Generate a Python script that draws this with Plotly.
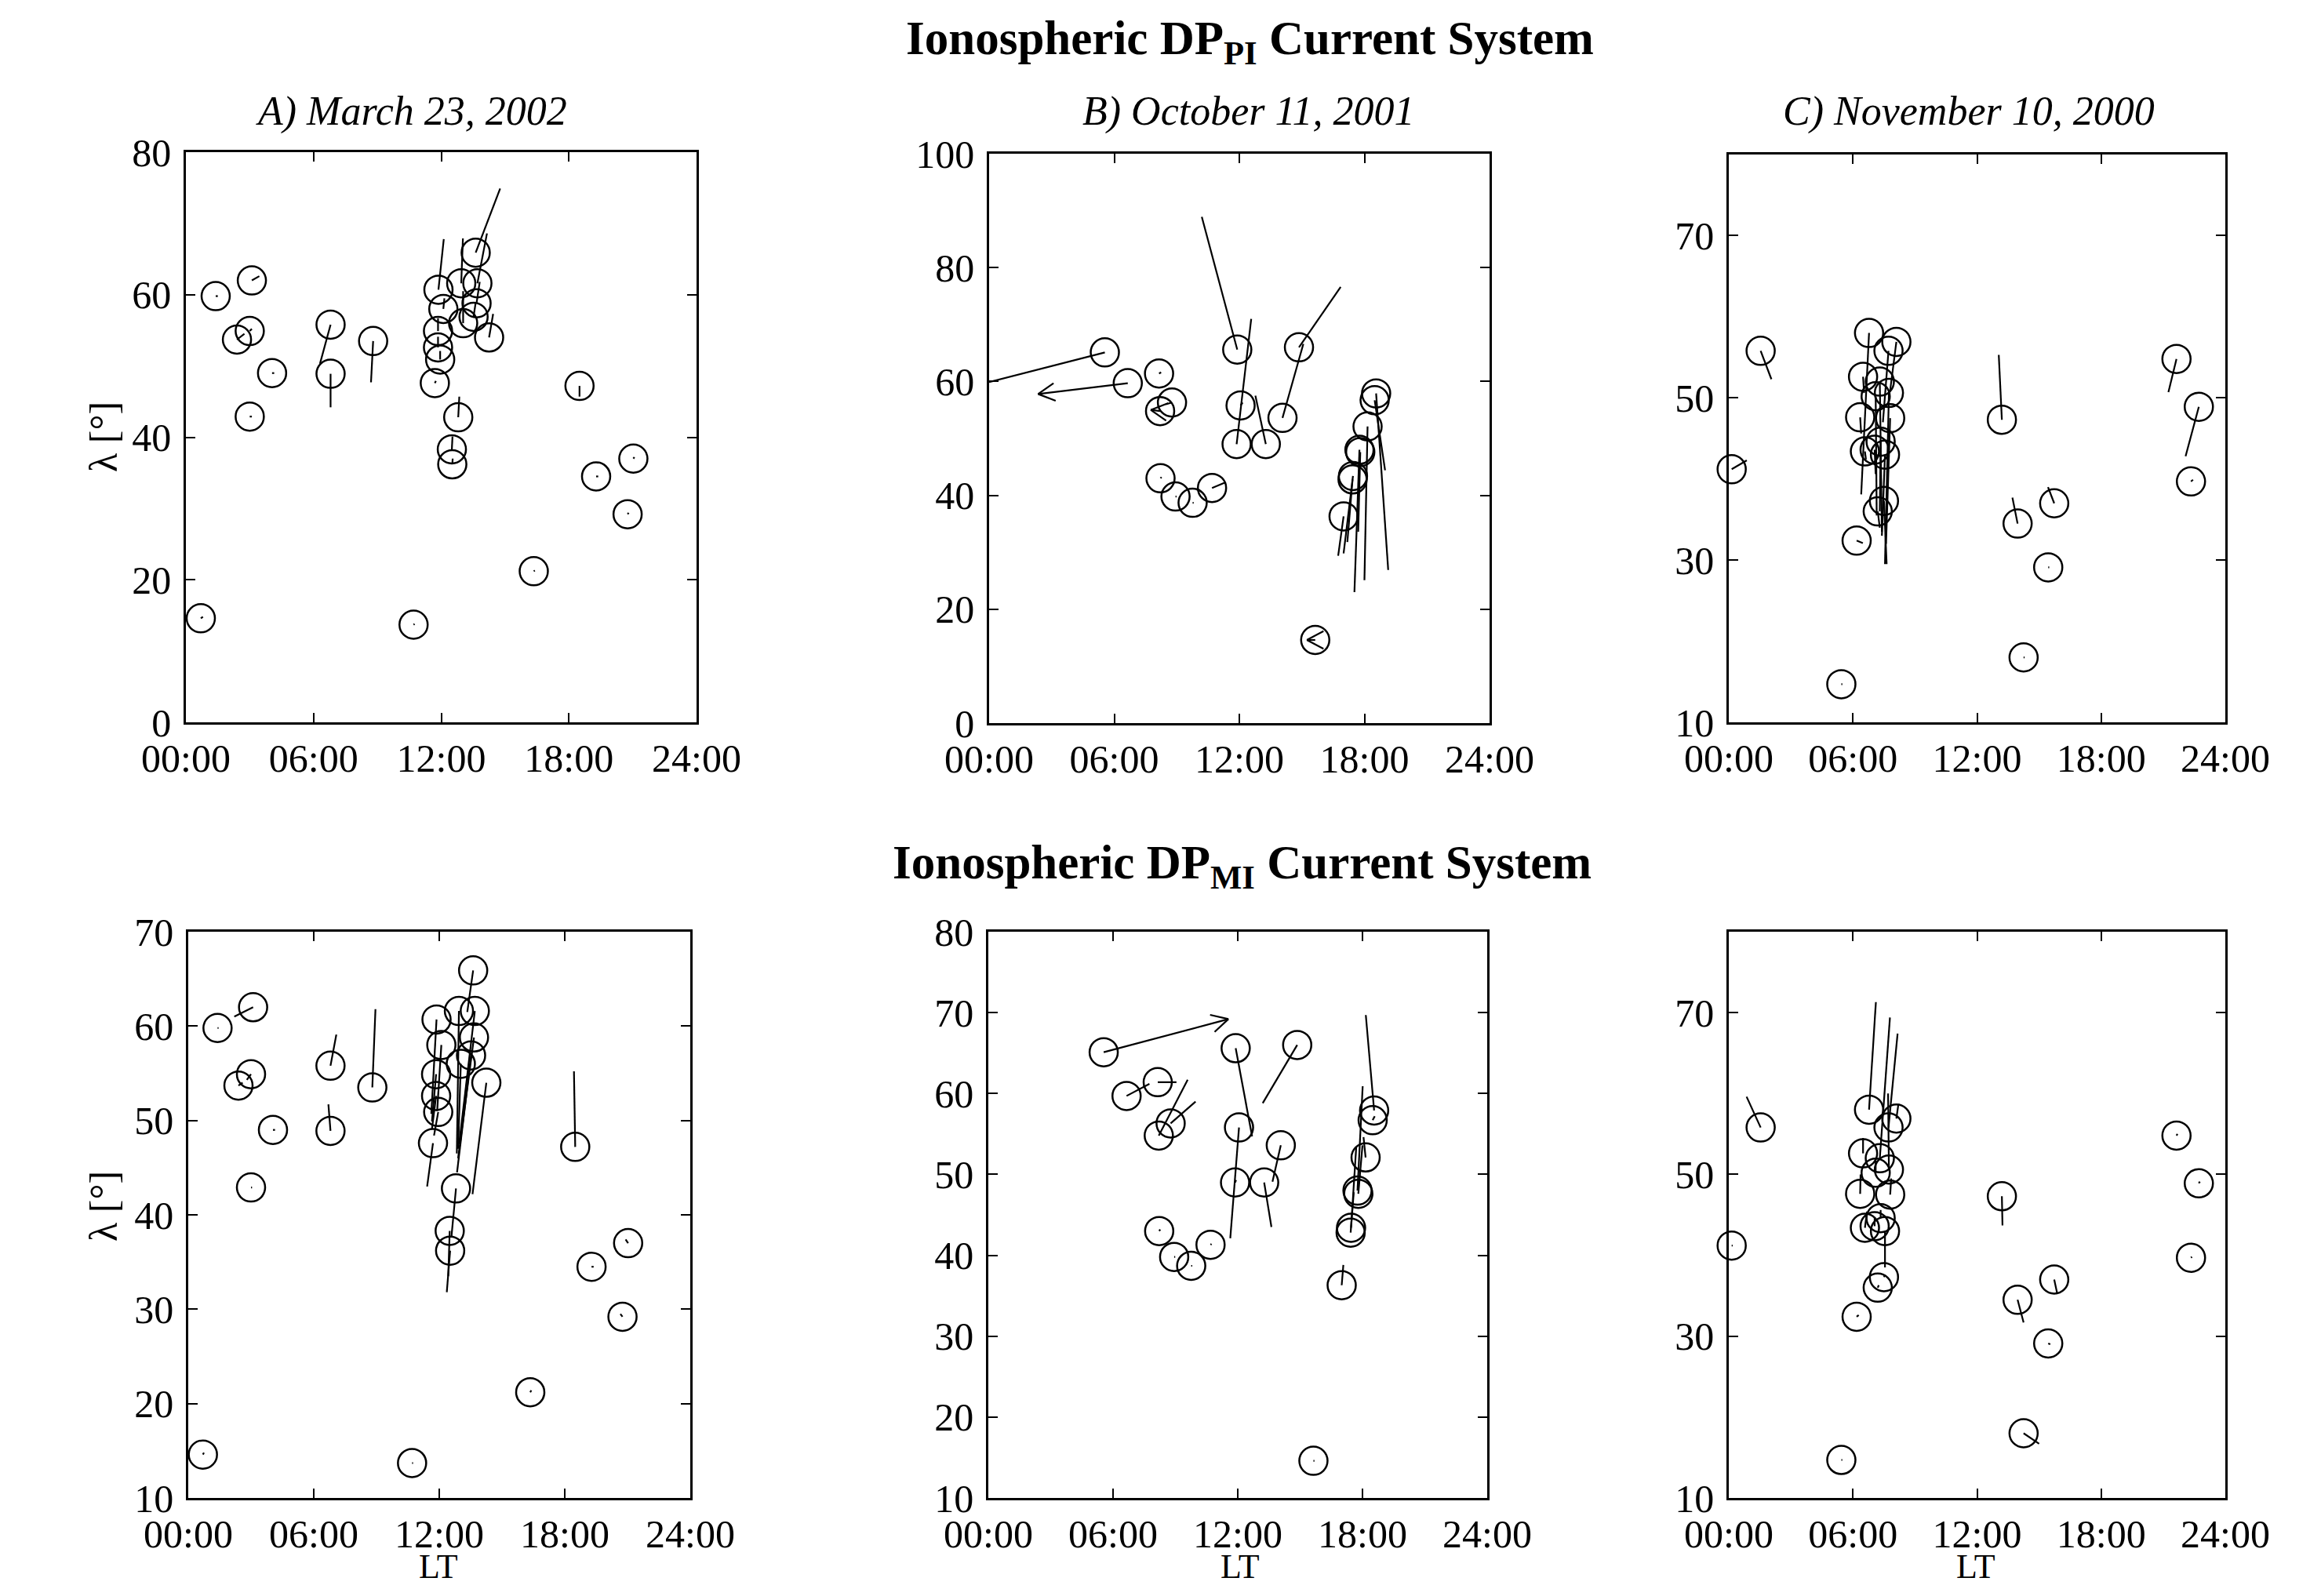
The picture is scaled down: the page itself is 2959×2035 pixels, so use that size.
import math
import plotly.graph_objects as go

FONT = "Liberation Serif"
W, H = 2959, 2035          # browser window
OFF = 8                    # default body margin of the page
FW, FH = W - 2 * OFF, H - 2 * OFF   # figure size so that the page fits the window


def fx(px):
    return (px - OFF) / FW


def fy(py):
    return 1 - (py - OFF) / FH


# ---------------- Event A: March 23, 2002 ----------------
A_lt = [0.7, 1.4, 2.4, 3.0, 3.1, 3.0, 4.05, 6.8, 6.8, 8.8, 10.7, 11.7, 11.95, 11.85, 11.85, 11.87,
        12.1, 12.8, 12.5, 12.52, 13.03, 12.94, 13.62, 13.7, 13.66, 13.52, 14.25, 16.35, 18.5, 19.28,
        20.76, 21.03]
A_lat = [14.6, 59.8, 53.7, 54.9, 62.0, 42.9, 49.0, 55.8, 48.9, 53.5, 13.7, 47.6, 50.9, 52.6, 54.9, 60.7,
         58.0, 42.8, 38.3, 36.2, 56.0, 61.6, 65.9, 61.6, 58.8, 56.9, 54.0, 21.2, 47.2, 34.5,
         29.2, 37.0]
A_pi_dx = [0.1, 0.1, 0.35, 0.1, 0.35, 0.1, 0.1, -0.5, 0.0, -0.1, 0.05, 0.05, 0.0, 0.0, 0.0, 0.25,
           0.05, 0.05, 0.03, 0.02, 0.0, 0.08, 1.15, 0.45, 0.15, 0.1, 0.19, 0.05, 0.0, 0.1,
           0.05, 0.05]
A_pi_dy = [0.2, 0.0, 0.8, 0.3, 0.6, 0.0, 0.0, -5.5, -4.7, -5.8, 0.1, 0.3, 1.2, 1.5, 1.8, 7.1,
           1.5, 2.9, 1.8, 0.8, 4.5, 6.3, 9.0, 7.0, 3.0, 2.0, 3.3, 0.1, -1.5, 0.0,
           0.2, 0.2]
A_mi_dx = [0.05, 0.05, 0.2, -0.2, -0.9, 0.05, 0.1, 0.28, -0.1, 0.15, 0.05, -0.28, -0.2, -0.2, -0.2, -0.25,
           -0.2, -0.22, -0.07, -0.16, -0.13, -0.1, -0.28, -0.75, -0.76, -0.67, -0.66, 0.05, -0.06, 0.1,
           -0.1, -0.12]
A_mi_dy = [0.2, 0.0, 0.3, -0.6, -1.0, 0.0, 0.0, 3.3, 2.8, 8.3, 0.0, -4.6, -2.5, -3.5, -5.0, -10.0,
           -7.0, -5.2, -4.8, -4.4, -9.0, -15.1, -4.4, -14.1, -12.8, -12.4, -11.8, 0.2, 8.0, 0.0,
           0.3, 0.4]
A_pi_head = []
A_mi_head = []

# ---------------- Event B: October 11, 2001 ----------------
B_lt = [5.55, 6.65, 8.15, 8.2, 8.77, 8.22, 8.94, 9.76, 10.69, 11.9, 11.87, 12.06, 13.27, 14.07, 14.86,
        15.64, 17.0, 17.45, 17.43, 17.76, 17.8, 18.15, 18.56, 18.49]
B_lat = [65.1, 59.7, 61.4, 54.8, 56.3, 43.0, 39.8, 38.7, 41.3, 65.6, 49.0, 55.8, 49.0, 53.6, 66.0,
         14.6, 36.3, 43.4, 42.8, 48.0, 47.6, 52.1, 57.9, 56.7]
B_pi_dx = [-5.55, -4.3, 0.1, -0.45, -0.3, 0.05, 0.05, 0.05, 0.65, -1.7, 0.7, 0.1, -0.5, 1.0, 2.0,
           -0.4, -0.26, -0.45, -0.25, -0.24, -0.1, -0.15, 0.58, 0.5]
B_pi_dy = [-5.2, -1.9, 0.2, 0.2, -0.3, 0.2, 0.0, 0.0, 1.0, 23.3, 22.0, 0.5, 8.5, 13.0, 10.6,
           0.0, -6.9, -13.6, -11.0, -25.0, -14.0, -27.0, -31.0, -12.3]
B_mi_dx = [6.0, 1.1, 0.9, 1.39, 1.2, 0.05, 0.05, 0.05, 0.05, 0.79, 0.05, -0.42, 0.35, -0.4, -1.66,
           0.05, 0.08, 0.25, 0.15, 0.25, 0.2, -0.1, -0.4, 0.1]
B_mi_dy = [4.1, 1.5, 0.0, 6.9, 2.7, 0.2, 0.0, 0.0, 0.1, -10.9, 0.3, -13.7, -5.5, -4.5, -7.2,
           0.0, 2.5, 10.0, 5.0, 12.9, 6.0, 2.5, 11.8, 0.5]
B_pi_head = [1, 3, 15]
B_mi_head = [0]

# ---------------- Event C: November 10, 2000 ----------------
C_lt = [0.14, 1.54, 5.44, 6.18, 6.78, 6.49, 6.35, 6.58, 8.1, 7.72, 7.3, 7.74, 7.1, 7.8, 7.34, 7.05,
        7.55, 7.5, 7.2, 13.2, 13.96, 15.73, 15.44, 14.25, 21.64, 22.72, 22.34]
C_lat = [41.2, 55.8, 14.7, 32.4, 58.0, 52.6, 47.6, 43.4, 56.9, 55.8, 52.0, 50.6, 50.2, 47.5, 44.6, 43.6,
         43.0, 37.3, 36.0, 47.3, 34.5, 37.0, 29.1, 18.0, 54.8, 48.9, 39.7]
C_pi_dx = [0.73, 0.52, 0.05, 0.3, -0.38, 0.05, 0.05, 0.05, -0.3, -0.27, 0.1, -0.19, 0.05, -0.2, -0.04, 0.05,
           -0.15, 0.13, 0.1, -0.15, -0.25, -0.3, 0.05, 0.05, -0.39, -0.64, 0.1]
C_pi_dy = [1.1, -3.5, 0.0, -0.3, -19.9, -2.0, -2.0, -1.0, -6.0, -8.8, -18.5, -21.1, -14.7, -15.5, -8.6, -3.0,
           -10.0, -7.8, -2.0, 8.0, 3.2, 2.0, 0.0, 0.0, -4.1, -6.1, 0.2]
C_mi_dx = [0.05, -0.68, 0.05, 0.1, 0.33, 0.0, 0.02, 0.1, 0.1, 0.44, 0.49, -0.04, 0.0, 0.05, 0.0, 0.0,
           0.0, 0.05, 0.05, 0.03, 0.29, 0.15, 0.1, 0.75, 0.05, 0.05, 0.05]
C_mi_dy = [0.0, 3.8, 0.0, 0.2, 13.3, 1.9, 2.4, 2.0, 1.8, 11.6, 17.4, 9.4, 1.5, 2.0, 1.0, 1.0,
           -4.5, 0.3, 0.3, -3.6, -2.8, -1.8, -0.1, -1.3, 0.2, 0.2, 0.1]
C_pi_head = []
C_mi_head = []

# ---------------- axes / labels ----------------
x_tickvals = [0, 6, 12, 18, 24]
x_ticktext = ["00:00", "06:00", "12:00", "18:00", "24:00"]
subtitles = ["A) March 23, 2002", "B) October 11, 2001", "C) November 10, 2000"]
main_titles = ["<b>Ionospheric DP<sub>PI</sub> Current System</b>",
               "<b>Ionospheric DP<sub>MI</sub> Current System</b>"]

panels = [
    dict(lt=A_lt, lat=A_lat, dx=A_pi_dx, dy=A_pi_dy, head=A_pi_head, yr=[0, 80], yt=[0, 20, 40, 60, 80],
         xd=(237, 888), yd=(194, 921)),
    dict(lt=B_lt, lat=B_lat, dx=B_pi_dx, dy=B_pi_dy, head=B_pi_head, yr=[0, 100], yt=[0, 20, 40, 60, 80, 100],
         xd=(1261, 1899), yd=(196, 922)),
    dict(lt=C_lt, lat=C_lat, dx=C_pi_dx, dy=C_pi_dy, head=C_pi_head, yr=[10, 80], yt=[10, 30, 50, 70],
         xd=(2204, 2837), yd=(197, 921)),
    dict(lt=A_lt, lat=A_lat, dx=A_mi_dx, dy=A_mi_dy, head=A_mi_head, yr=[10, 70], yt=[10, 20, 30, 40, 50, 60, 70],
         xd=(240, 880), yd=(1188, 1910)),
    dict(lt=B_lt, lat=B_lat, dx=B_mi_dx, dy=B_mi_dy, head=B_mi_head, yr=[10, 80], yt=[10, 20, 30, 40, 50, 60, 70, 80],
         xd=(1260, 1896), yd=(1188, 1910)),
    dict(lt=C_lt, lat=C_lat, dx=C_mi_dx, dy=C_mi_dy, head=C_mi_head, yr=[10, 80], yt=[10, 30, 50, 70],
         xd=(2204, 2837), yd=(1188, 1910)),
]

fig = go.Figure()
axis_font = dict(family=FONT, size=50, color="black")

for i, p in enumerate(panels):
    k = "" if i == 0 else str(i + 1)
    xa, ya = "x" + k, "y" + k
    # pixel scales for arrowheads
    sx = (p["xd"][1] - p["xd"][0]) / 24.0
    sy = (p["yd"][1] - p["yd"][0]) / (p["yr"][1] - p["yr"][0])
    lx, ly = [], []
    for j in range(len(p["lt"])):
        x0, y0 = p["lt"][j], p["lat"][j]
        x1, y1 = x0 + p["dx"][j], y0 + p["dy"][j]
        lx += [x0, x1, None]
        ly += [y0, y1, None]
        if j in p["head"]:
            ux, uy = p["dx"][j] * sx, p["dy"][j] * sy
            n = math.hypot(ux, uy)
            ux, uy = ux / n, uy / n
            L, a = 24.0, math.radians(28)
            for s in (1, -1):
                ca, sa = math.cos(s * a), math.sin(s * a)
                wx = ux * ca - uy * sa
                wy = ux * sa + uy * ca
                lx += [x1, x1 - L * wx / sx, None]
                ly += [y1, y1 - L * wy / sy, None]
    fig.add_trace(go.Scatter(x=lx, y=ly, mode="lines", line=dict(color="black", width=2.2),
                             xaxis=xa, yaxis=ya, hoverinfo="skip", showlegend=False))
    fig.add_trace(go.Scatter(x=p["lt"], y=p["lat"], mode="markers", cliponaxis=False,
                             marker=dict(symbol="circle-open", size=36, color="black",
                                         line=dict(width=2.5, color="black")),
                             xaxis=xa, yaxis=ya, showlegend=False))
    common = dict(showline=True, linecolor="black", linewidth=2.5, mirror="ticks", ticks="inside",
                  ticklen=12, tickwidth=2, tickcolor="black", showgrid=False, zeroline=False,
                  tickfont=axis_font, automargin=False)
    fig.layout["xaxis" + k] = dict(domain=[fx(p["xd"][0]), fx(p["xd"][1])], range=[0, 24],
                                   tickvals=x_tickvals, ticktext=x_ticktext, anchor=ya,
                                   ticklabelstandoff=0, **common)
    fig.layout["yaxis" + k] = dict(domain=[fy(p["yd"][1]), fy(p["yd"][0])], range=p["yr"],
                                   tickvals=p["yt"], anchor=xa, ticklabelstandoff=6, **common)

ann = []
ann.append(dict(text=main_titles[0], x=fx(1593), y=fy(53), font=dict(family=FONT, size=61, color="black")))
ann.append(dict(text=main_titles[1], x=fx(1583), y=fy(1104), font=dict(family=FONT, size=61, color="black")))
for t, cx in zip(subtitles, [524, 1592, 2510]):
    ann.append(dict(text="<i>" + t + "</i>", x=fx(cx), y=fy(142), font=dict(family=FONT, size=52, color="black")))
for cy in [557, 1538]:
    ann.append(dict(text="λ [°]", x=fx(132), y=fy(cy), textangle=-90, font=dict(family=FONT, size=50, color="black")))
for cx in [559, 1581, 2519]:
    ann.append(dict(text="LT", x=fx(cx), y=fy(1997), font=dict(family=FONT, size=44, color="black")))
for a in ann:
    a.update(xref="paper", yref="paper", showarrow=False, xanchor="center", yanchor="middle")

fig.update_layout(width=FW, height=FH, autosize=False, margin=dict(l=0, r=0, t=0, b=0, autoexpand=False),
                  paper_bgcolor="white", plot_bgcolor="white", annotations=ann)

fig.write_html("out.html")
